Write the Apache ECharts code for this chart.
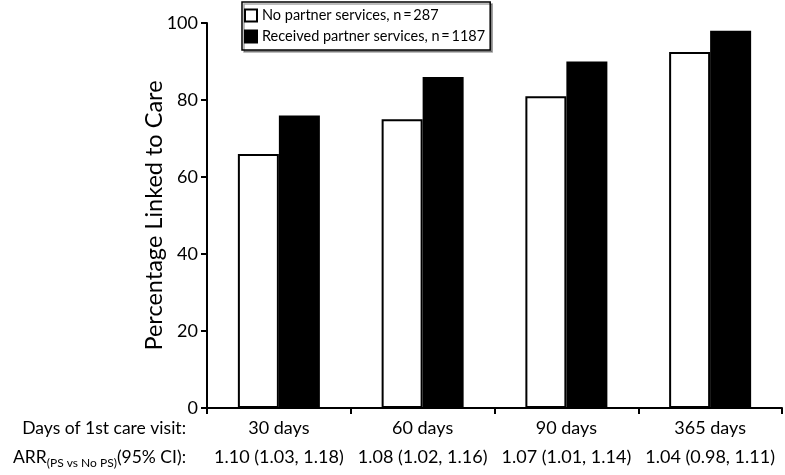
<!DOCTYPE html>
<html><head><meta charset="utf-8">
<script src="https://cdn.jsdelivr.net/npm/echarts@6/dist/echarts.min.js"></script>
<style>html,body{margin:0;padding:0;background:#fff}#c{width:785px;height:475px}</style>
</head><body><div id="c"></div>
<script>
const categories = ['30 days', '60 days', '90 days', '365 days'];
const arrLabels = ['1.10 (1.03, 1.18)', '1.08 (1.02, 1.16)', '1.07 (1.01, 1.14)', '1.04 (0.98, 1.11)'];
const noPartner = [66, 75, 81, 92.5];
const receivedPartner = [76, 86, 90, 98];
const seriesNames = ['No partner services, n\u2009=\u2009287', 'Received partner services, n\u2009=\u20091187'];
const yTicks = [0, 20, 40, 60, 80, 100];

const FONT = 'Lato, "Open Sans", sans-serif';
const chart = echarts.init(document.getElementById('c'));
chart.setOption({
  animation: false,
  textStyle: { fontFamily: FONT, color: '#000' },
  grid: { left: 207, right: 3, top: 23, bottom: 67 },
  legend: {
    orient: 'vertical', left: 242, top: 2,
    itemWidth: 12, itemHeight: 12, itemGap: 6,
    padding: [6, 5, 6, 2],
    borderColor: '#000', borderWidth: 1.5,
    backgroundColor: '#fff',
    shadowColor: 'rgba(0,0,0,0.35)', shadowOffsetX: 2, shadowOffsetY: 2, shadowBlur: 0,
    textStyle: { fontFamily: FONT, fontSize: 14.5, color: '#000', padding: [0, 0, 0, 0] },
    data: seriesNames.map(n => ({ name: n, icon: 'rect' }))
  },
  xAxis: {
    type: 'category', data: categories,
    axisLine: { lineStyle: { color: '#000', width: 2 } },
    axisTick: { show: true, length: 6, lineStyle: { color: '#000', width: 2 } },
    axisLabel: {
      interval: 0,
      margin: 6, fontFamily: FONT, fontSize: 18, color: '#000', lineHeight: 29,
      formatter: (v, i) => v + '\n' + arrLabels[i]
    }
  },
  yAxis: {
    type: 'value', min: 0, max: 100, interval: 20,
    name: 'Percentage Linked to Care', nameLocation: 'middle', nameGap: 41,
    nameMoveOverlap: false,
    nameTextStyle: { fontFamily: FONT, fontSize: 23.5, color: '#000' },
    splitLine: { show: false },
    axisLine: { show: true, lineStyle: { color: '#000', width: 2 } },
    axisTick: { show: true, length: 6, lineStyle: { color: '#000', width: 2 } },
    axisLabel: { margin: 9, fontFamily: FONT, fontSize: 18, color: '#000',
      formatter: v => yTicks.includes(v) ? String(v) : '' }
  },
  series: [
    { name: seriesNames[0], type: 'bar', data: noPartner, barWidth: 41, barGap: '0%',
      itemStyle: { color: '#fff', borderColor: '#000', borderWidth: 2 } },
    { name: seriesNames[1], type: 'bar', data: receivedPartner, barWidth: 41, barGap: '0%',
      itemStyle: { color: '#000', borderColor: '#000', borderWidth: 2 } }
  ],
  graphic: [
    { type: 'text', x: 186, y: 428,
      style: { text: 'Days of 1st care visit:', align: 'right', verticalAlign: 'middle',
        fontFamily: FONT, fontSize: 17.5, fill: '#000' } },
    { type: 'text', x: 186, y: 457,
      style: { text: '{a|ARR}{s|(PS vs No PS)}{a|(95% CI):}', align: 'right', verticalAlign: 'middle',
        rich: {
          a: { fontFamily: FONT, fontSize: 17.5, color: '#000' },
          s: { fontFamily: FONT, fontSize: 12, color: '#000', padding: [12, 0, 0, 0] }
        } } }
  ]
});
</script></body></html>
